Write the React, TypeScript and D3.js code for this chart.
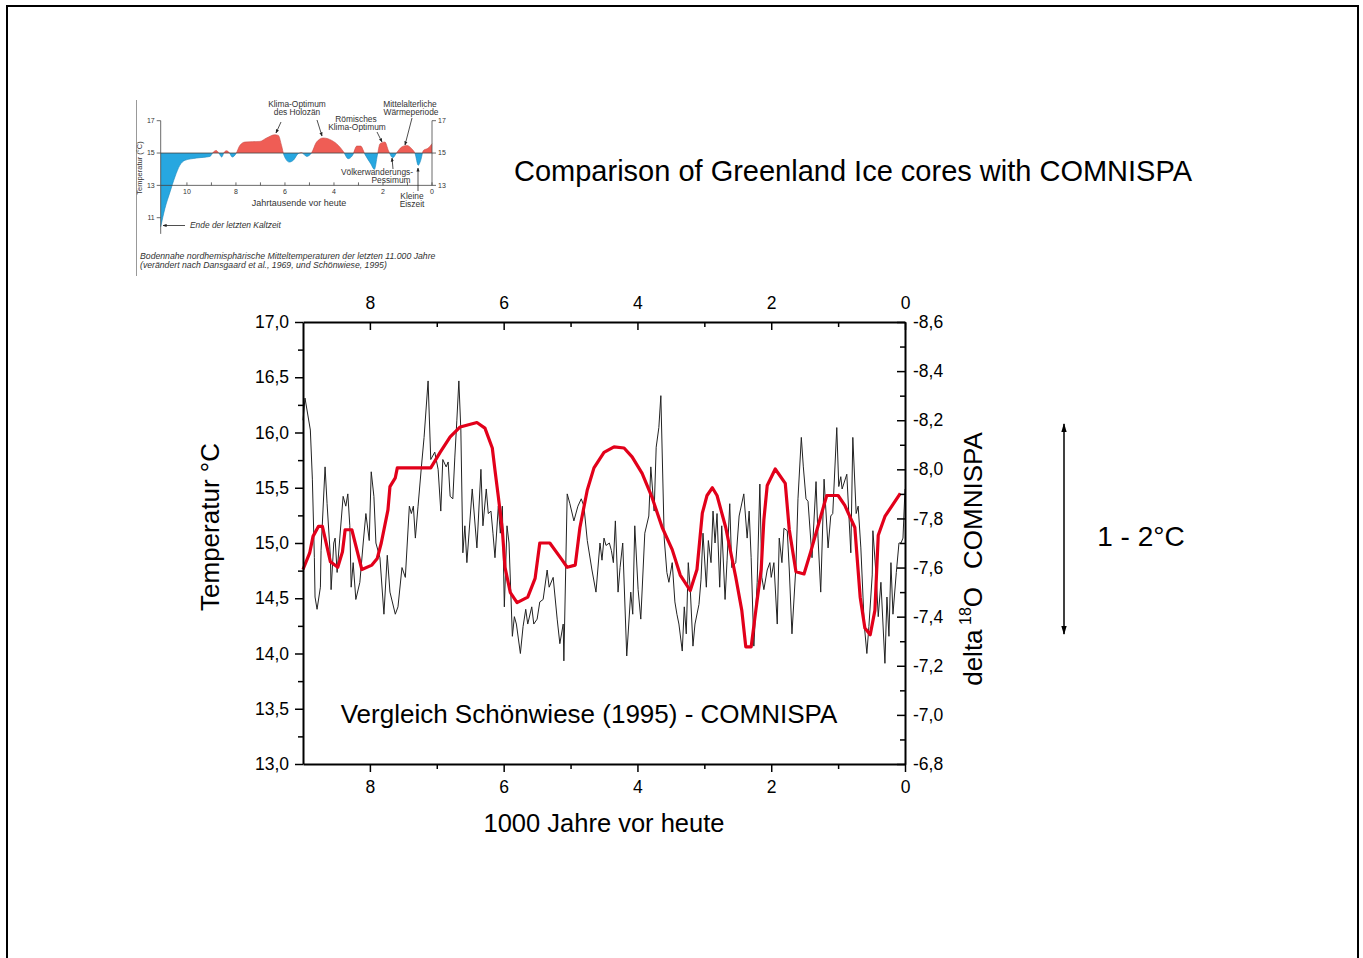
import React, { useEffect, useRef } from "react";
import * as d3 from "d3";

// Schönwiese (1995) temperature curve [kyr before present, °C]
const schoenwiese: [number, number][] = [
  [9.0, 14.76], [8.9, 14.91], [8.85, 15.06], [8.77, 15.15], [8.71, 15.15], [8.59, 14.83], [8.48, 14.78],
  [8.41, 14.92], [8.37, 15.12], [8.27, 15.12], [8.12, 14.76], [7.97, 14.8], [7.89, 14.86], [7.83, 15.0],
  [7.73, 15.3], [7.7, 15.51], [7.62, 15.59], [7.59, 15.68], [7.09, 15.68], [6.95, 15.82], [6.8, 15.96],
  [6.65, 16.05], [6.4, 16.09], [6.28, 16.04], [6.17, 15.86], [6.13, 15.66], [6.08, 15.42], [6.02, 15.12],
  [5.98, 14.78], [5.9, 14.55], [5.8, 14.46], [5.64, 14.51], [5.53, 14.68], [5.46, 15.0], [5.31, 15.0],
  [5.13, 14.85], [5.05, 14.78], [4.93, 14.8], [4.86, 15.14], [4.75, 15.48], [4.65, 15.68], [4.5, 15.82],
  [4.35, 15.87], [4.2, 15.86], [4.08, 15.78], [3.93, 15.63], [3.78, 15.41], [3.63, 15.14], [3.48, 14.94],
  [3.36, 14.71], [3.21, 14.57], [3.11, 14.76], [3.03, 15.27], [2.96, 15.43], [2.88, 15.5], [2.81, 15.43],
  [2.68, 15.14], [2.53, 14.69], [2.44, 14.39], [2.38, 14.06], [2.3, 14.06], [2.23, 14.39], [2.15, 14.76],
  [2.11, 15.21], [2.06, 15.52], [1.94, 15.67], [1.79, 15.54], [1.73, 15.12], [1.63, 14.74], [1.51, 14.72],
  [1.41, 14.92], [1.26, 15.24], [1.17, 15.43], [1.0, 15.43], [0.9, 15.34], [0.75, 15.14], [0.67, 14.51],
  [0.6, 14.23], [0.52, 14.17], [0.45, 14.39], [0.4, 15.07], [0.3, 15.24], [0.07, 15.45],
];

// COMNISPA delta 18O [kyr before present, permil]
const comnispa: [number, number][] = [
  [9.0, -8.2], [8.97, -8.29], [8.89, -8.16], [8.86, -7.96], [8.83, -7.64], [8.82, -7.48], [8.79, -7.43],
  [8.74, -7.52], [8.73, -7.67], [8.67, -8.01], [8.64, -7.86], [8.59, -7.64], [8.58, -7.51], [8.54, -7.7],
  [8.52, -7.72], [8.49, -7.58], [8.45, -7.72], [8.4, -7.89], [8.36, -7.85], [8.33, -7.9], [8.3, -7.77],
  [8.28, -7.52], [8.25, -7.62], [8.21, -7.47], [8.15, -7.54], [8.1, -7.7], [8.06, -7.82], [8.01, -7.71],
  [7.98, -7.99], [7.94, -7.89], [7.91, -7.7], [7.85, -7.64], [7.79, -7.41], [7.74, -7.65], [7.7, -7.5],
  [7.62, -7.41], [7.58, -7.44], [7.52, -7.6], [7.47, -7.56], [7.41, -7.85], [7.38, -7.82], [7.35, -7.85],
  [7.32, -7.72], [7.28, -7.85], [7.23, -8.01], [7.19, -8.13], [7.13, -8.36], [7.09, -8.04], [7.03, -8.07],
  [6.98, -8.0], [6.94, -7.83], [6.91, -8.04], [6.86, -8.01], [6.83, -8.03], [6.8, -7.89], [6.76, -7.88],
  [6.73, -8.05], [6.7, -8.2], [6.67, -8.36], [6.64, -8.16], [6.61, -7.66], [6.58, -7.77], [6.55, -7.62],
  [6.47, -7.92], [6.4, -7.68], [6.34, -8.0], [6.31, -7.77], [6.26, -7.92], [6.23, -7.82], [6.19, -7.83],
  [6.16, -7.74], [6.13, -7.64], [6.08, -7.85], [6.05, -7.74], [6.02, -7.85], [5.99, -7.44], [5.95, -7.77],
  [5.92, -7.7], [5.87, -7.32], [5.84, -7.4], [5.81, -7.37], [5.75, -7.25], [5.71, -7.36], [5.67, -7.43],
  [5.64, -7.37], [5.58, -7.44], [5.55, -7.37], [5.5, -7.39], [5.46, -7.46], [5.41, -7.47], [5.35, -7.59],
  [5.32, -7.52], [5.26, -7.56], [5.2, -7.39], [5.16, -7.29], [5.11, -7.37], [5.1, -7.22], [5.05, -7.9],
  [5.01, -7.86], [4.95, -7.79], [4.89, -7.85], [4.84, -7.88], [4.8, -7.85], [4.75, -7.71], [4.68, -7.59],
  [4.62, -7.5], [4.56, -7.7], [4.53, -7.63], [4.5, -7.72], [4.47, -7.69], [4.42, -7.7], [4.39, -7.67],
  [4.36, -7.62], [4.33, -7.79], [4.29, -7.5], [4.26, -7.6], [4.22, -7.7], [4.16, -7.24], [4.1, -7.5],
  [4.07, -7.41], [4.04, -7.77], [3.99, -7.51], [3.95, -7.39], [3.89, -7.74], [3.83, -7.81], [3.8, -8.01],
  [3.75, -7.83], [3.72, -8.09], [3.68, -8.17], [3.65, -8.3], [3.6, -7.72], [3.56, -7.58], [3.53, -7.54],
  [3.48, -7.62], [3.44, -7.46], [3.41, -7.41], [3.38, -7.37], [3.33, -7.26], [3.3, -7.44], [3.27, -7.33],
  [3.24, -7.62], [3.21, -7.51], [3.17, -7.28], [3.14, -7.37], [3.08, -7.45], [3.05, -7.55], [3.02, -7.74],
  [2.97, -7.52], [2.94, -7.71], [2.9, -7.62], [2.87, -7.83], [2.84, -7.7], [2.81, -7.82], [2.77, -7.52],
  [2.74, -7.77], [2.69, -7.47], [2.66, -7.63], [2.62, -7.86], [2.59, -7.6], [2.53, -7.62], [2.48, -7.81],
  [2.41, -7.9], [2.36, -7.72], [2.33, -7.83], [2.3, -7.64], [2.26, -7.28], [2.21, -7.54], [2.17, -7.94],
  [2.14, -7.56], [2.11, -7.51], [2.06, -7.59], [2.02, -7.62], [2.0, -7.56], [1.96, -7.62], [1.91, -7.37],
  [1.88, -7.72], [1.84, -7.62], [1.81, -7.76], [1.76, -7.75], [1.73, -7.59], [1.69, -7.33], [1.63, -7.61],
  [1.6, -7.88], [1.55, -8.13], [1.52, -8.01], [1.48, -7.88], [1.45, -7.87], [1.39, -7.64], [1.33, -7.95],
  [1.3, -7.72], [1.26, -7.5], [1.21, -7.96], [1.15, -7.68], [1.11, -7.81], [1.08, -7.82], [1.02, -8.17],
  [0.99, -7.93], [0.96, -7.97], [0.94, -7.92], [0.87, -7.98], [0.81, -7.66], [0.78, -8.13], [0.73, -7.82],
  [0.7, -7.85], [0.66, -7.68], [0.61, -7.37], [0.57, -7.25], [0.54, -7.36], [0.49, -7.57], [0.48, -7.75],
  [0.43, -7.56], [0.4, -7.4], [0.36, -7.54], [0.3, -7.21], [0.27, -7.48], [0.24, -7.32], [0.21, -7.62],
  [0.18, -7.41], [0.13, -7.58], [0.09, -7.7], [0.06, -7.7], [0.03, -7.72], [0.0, -7.92],
];

// Inset: northern hemisphere mean temperature, last 11,000 years [kyr, °C]
const insetCurve: [number, number][] = [
  [11.07, 10.43], [10.9, 11.56], [10.69, 12.59], [10.49, 13.52], [10.29, 14.24], [10.08, 14.55],
  [9.6, 14.69], [9.06, 14.79], [8.92, 15.06], [8.81, 15.16], [8.68, 14.96], [8.58, 14.75], [8.49, 15.02],
  [8.38, 15.14], [8.27, 15.02], [8.15, 14.75], [8.0, 14.96], [7.84, 15.47], [7.63, 15.68], [7.02, 15.72],
  [6.75, 15.93], [6.41, 16.13], [6.27, 16.09], [6.14, 15.47], [6.04, 14.86], [5.82, 14.44], [5.66, 14.55],
  [5.46, 14.96], [5.32, 15.02], [5.11, 14.79], [4.91, 15.02], [4.71, 15.68], [4.44, 15.93], [4.09, 15.78],
  [3.82, 15.47], [3.62, 15.1], [3.42, 14.65], [3.24, 14.86], [3.07, 15.43], [2.91, 15.43], [2.73, 14.9],
  [2.5, 14.34], [2.35, 13.99], [2.23, 14.86], [2.12, 15.58], [1.92, 15.68], [1.78, 15.16], [1.6, 14.71],
  [1.44, 15.02], [1.24, 15.37], [1.03, 15.47], [0.83, 15.27], [0.69, 14.96], [0.56, 14.24], [0.46, 14.55],
  [0.35, 15.16], [0.15, 15.31], [0.0, 15.58],
];

const kyrMajor = [8, 6, 4, 2, 0];
const kyrMinor = [7, 5, 3, 1];
const tempMajor = [13, 13.5, 14, 14.5, 15, 15.5, 16, 16.5, 17];
const tempMinor = [13.25, 13.75, 14.25, 14.75, 15.25, 15.75, 16.25, 16.75];
const deltaMajor = [-8.6, -8.4, -8.2, -8.0, -7.8, -7.6, -7.4, -7.2, -7.0, -6.8];
const deltaMinor = [-8.5, -8.3, -8.1, -7.9, -7.7, -7.5, -7.3, -7.1, -6.9];
const insetXTicks = [10, 8, 6, 4, 2, 0];
const insetXMinor = [9, 7, 5, 3, 1];
const insetYLeft = [17, 15, 13, 11];
const insetYRight = [17, 15, 13];

const FONT = "'Liberation Sans', Arial, sans-serif";

export default function App() {
  const axesRef = useRef<SVGGElement>(null);

  const x = d3.scaleLinear().domain([9, 0]).range([303, 905]);
  const yL = d3.scaleLinear().domain([13, 17]).range([764, 322]);
  const yR = d3.scaleLinear().domain([-6.8, -8.6]).range([764, 322]);

  const xi = d3.scaleLinear().domain([11.07, 0]).range([160.7, 432]);
  const yi = d3.scaleLinear().domain([11, 17]).range([217.7, 120.7]);

  const comma = (v: number) => d3.format(".1f")(v).replace(".", ",").replace("\u2212", "-");

  const redLine = d3.line<[number, number]>().x((d) => x(d[0])).y((d) => yL(d[1]))(schoenwiese) || "";
  const blackLine = d3.line<[number, number]>().x((d) => x(d[0])).y((d) => yR(d[1]))(comnispa) || "";

  const insetArea = d3
    .area<[number, number]>()
    .x((d) => xi(d[0]))
    .y0(yi(15))
    .y1((d) => yi(d[1]))
    .curve(d3.curveMonotoneX)(insetCurve) || "";
  const insetLine = d3
    .line<[number, number]>()
    .x((d) => xi(d[0]))
    .y((d) => yi(d[1]))
    .curve(d3.curveMonotoneX)(insetCurve) || "";

  useEffect(() => {
    const root = d3.select(axesRef.current as SVGGElement);
    root.selectAll("*").remove();

    const style = (sel: any, hideDomain = false) => {
      sel.attr("font-size", null).attr("font-family", null);
      sel.select(".domain").attr("stroke-width", 2).attr("stroke", "#000");
      if (hideDomain) sel.select(".domain").remove();
      sel.selectAll(".tick line").attr("stroke-width", 1.5).attr("stroke", "#000");
      sel
        .selectAll(".tick text")
        .attr("font-size", 17.5)
        .attr("font-family", FONT)
        .attr("fill", "#000");
    };

    // left
    root.append("g").attr("transform", "translate(303,0)")
      .call(d3.axisLeft(yL).tickValues(tempMinor).tickSize(5).tickFormat(() => ""))
      .call((s) => style(s, true));
    root.append("g").attr("transform", "translate(303,0)")
      .call(d3.axisLeft(yL).tickValues(tempMajor).tickSizeInner(8).tickSizeOuter(0).tickPadding(6).tickFormat((d) => comma(+d)))
      .call((s) => style(s));
    // right
    root.append("g").attr("transform", "translate(905,0)")
      .call(d3.axisRight(yR).tickValues(deltaMinor).tickSizeInner(-5).tickSizeOuter(0).tickFormat(() => ""))
      .call((s) => style(s, true));
    root.append("g").attr("transform", "translate(905,0)")
      .call(d3.axisRight(yR).tickValues(deltaMajor).tickSizeInner(-8).tickSizeOuter(0).tickPadding(8).tickFormat((d) => comma(+d)))
      .call((s) => style(s));
    // top
    root.append("g").attr("transform", "translate(0,322)")
      .call(d3.axisTop(x).tickValues(kyrMinor).tickSizeInner(-5).tickSizeOuter(0).tickFormat(() => ""))
      .call((s) => style(s, true));
    root.append("g").attr("transform", "translate(0,322)")
      .call(d3.axisTop(x).tickValues(kyrMajor).tickSizeInner(-8).tickSizeOuter(0).tickPadding(13).tickFormat((d) => String(d)))
      .call((s) => style(s));
    // bottom
    root.append("g").attr("transform", "translate(0,764)")
      .call(d3.axisBottom(x).tickValues(kyrMinor).tickSize(5).tickFormat(() => ""))
      .call((s) => style(s, true));
    root.append("g").attr("transform", "translate(0,764)")
      .call(d3.axisBottom(x).tickValues(kyrMajor).tickSizeInner(8).tickSizeOuter(0).tickPadding(9).tickFormat((d) => String(d)))
      .call((s) => style(s));
  }, []);

  const y15 = yi(15);
  const insetText = { fontFamily: FONT, fontSize: 8.4, fill: "#333" } as const;

  return (
    <svg
      width={1363}
      height={958}
      style={{ position: "absolute", left: 0, top: 0, display: "block", background: "#fff" }}
    >
      <defs>
        <clipPath id="aboveClip">
          <rect x={150} y={90} width={300} height={y15 - 90} />
        </clipPath>
        <clipPath id="belowClip">
          <rect x={150} y={y15} width={300} height={120} />
        </clipPath>
        <marker id="arrSmall" viewBox="0 0 10 10" refX="9" refY="5" markerWidth="5" markerHeight="5" orient="auto">
          <path d="M0,1 L10,5 L0,9 z" fill="#222" />
        </marker>
        <marker id="arrBig" viewBox="0 0 10 10" refX="9" refY="5" markerWidth="6" markerHeight="8" orient="auto-start-reverse">
          <path d="M0,2 L10,5 L0,8 z" fill="#000" />
        </marker>
      </defs>

      {/* frame */}
      <rect x={7} y={6} width={1351} height={980} fill="none" stroke="#000" strokeWidth={2} />

      {/* ===== inset ===== */}
      <line x1={136.5} y1={100} x2={136.5} y2={276} stroke="#999" strokeWidth={1} />
      <path d={insetArea} fill="#ef5d55" clipPath="url(#aboveClip)" />
      <path d={insetArea} fill="#27a7e0" clipPath="url(#belowClip)" />
      <path d={insetLine} fill="none" stroke="#c94a44" strokeWidth={0.6} clipPath="url(#aboveClip)" />
      <path d={insetLine} fill="none" stroke="#1a86bb" strokeWidth={0.6} clipPath="url(#belowClip)" />
      <line x1={xi(11.07)} x2={xi(0)} y1={y15} y2={y15} stroke="#444" strokeWidth={0.8} />
      {/* inset axes */}
      <line x1={xi(11.07)} x2={xi(11.07)} y1={yi(17)} y2={yi(10)} stroke="#444" strokeWidth={0.8} />
      <line x1={xi(0)} x2={xi(0)} y1={yi(17)} y2={yi(13)} stroke="#444" strokeWidth={0.8} />
      <line x1={xi(11.07)} x2={xi(0)} y1={yi(13)} y2={yi(13)} stroke="#444" strokeWidth={0.8} />
      {insetYLeft.map((t) => (
        <g key={"il" + t}>
          <line x1={xi(11.07) - 4} x2={xi(11.07)} y1={yi(t)} y2={yi(t)} stroke="#444" strokeWidth={0.8} />
          <text x={xi(11.07) - 6} y={yi(t)} dy="0.32em" textAnchor="end" {...insetText} fontSize={7}>{t}</text>
        </g>
      ))}
      {insetYRight.map((t) => (
        <g key={"ir" + t}>
          <line x1={xi(0)} x2={xi(0) + 4} y1={yi(t)} y2={yi(t)} stroke="#444" strokeWidth={0.8} />
          <text x={xi(0) + 6} y={yi(t)} dy="0.32em" {...insetText} fontSize={7}>{t}</text>
        </g>
      ))}
      {insetXMinor.concat(insetXTicks).map((t) => (
        <line key={"ix" + t} x1={xi(t)} x2={xi(t)} y1={yi(13)} y2={yi(13) - 3} stroke="#444" strokeWidth={0.8} />
      ))}
      {insetXTicks.map((t) => (
        <text key={"ixt" + t} x={xi(t)} y={yi(13) + 9} textAnchor="middle" {...insetText} fontSize={7}>{t}</text>
      ))}
      <text x={299} y={206} textAnchor="middle" {...insetText} fontSize={9}>Jahrtausende vor heute</text>
      <text transform="translate(142,168) rotate(-90)" textAnchor="middle" {...insetText} fontSize={7.5}>Temperatur (°C)</text>

      {/* inset annotations */}
      <text x={297} y={107} textAnchor="middle" {...insetText}>Klima-Optimum</text>
      <text x={297} y={115} textAnchor="middle" {...insetText}>des Holozän</text>
      <line x1={281} y1={122} x2={276} y2={133} stroke="#222" strokeWidth={0.8} markerEnd="url(#arrSmall)" />
      <line x1={317} y1={120} x2={322} y2={136} stroke="#222" strokeWidth={0.8} markerEnd="url(#arrSmall)" />
      <text x={356} y={122} textAnchor="middle" {...insetText}>Römisches</text>
      <text x={357} y={130} textAnchor="middle" {...insetText}>Klima-Optimum</text>
      <line x1={377} y1={132} x2={382} y2={142} stroke="#222" strokeWidth={0.8} markerEnd="url(#arrSmall)" />
      <text x={410} y={107} textAnchor="middle" {...insetText}>Mittelalterliche</text>
      <text x={411} y={115} textAnchor="middle" {...insetText}>Wärmeperiode</text>
      <line x1={412} y1={118} x2={405} y2={145} stroke="#222" strokeWidth={0.8} markerEnd="url(#arrSmall)" />
      <text x={377} y={175} textAnchor="middle" {...insetText}>Völkerwanderungs-</text>
      <text x={391} y={183} textAnchor="middle" {...insetText}>Pessimum</text>
      <line x1={393} y1={169} x2={392} y2={158} stroke="#222" strokeWidth={0.8} markerEnd="url(#arrSmall)" />
      <text x={412} y={199} textAnchor="middle" {...insetText}>Kleine</text>
      <text x={412} y={207} textAnchor="middle" {...insetText}>Eiszeit</text>
      <line x1={418} y1={191} x2={418} y2={168} stroke="#222" strokeWidth={0.8} markerEnd="url(#arrSmall)" />
      <text x={190} y={228} {...insetText} fontStyle="italic">Ende der letzten Kaltzeit</text>
      <line x1={185} y1={225.5} x2={163} y2={225.5} stroke="#222" strokeWidth={0.8} markerEnd="url(#arrSmall)" />
      <text x={140} y={259} {...insetText} fontSize={8.7} fontStyle="italic">
        Bodennahe nordhemisphärische Mitteltemperaturen der letzten 11.000 Jahre
      </text>
      <text x={140} y={268} {...insetText} fontSize={8.7} fontStyle="italic">
        (verändert nach Dansgaard et al., 1969, und Schönwiese, 1995)
      </text>

      {/* title */}
      <text x={853} y={181} textAnchor="middle" fontFamily={FONT} fontSize={29} fill="#000">
        Comparison of Greenland Ice cores with COMNISPA
      </text>

      {/* ===== main chart ===== */}
      <path d={blackLine} fill="none" stroke="#222" strokeWidth={1} strokeLinejoin="round" />
      <path d={redLine} fill="none" stroke="#e2001a" strokeWidth={3.2} strokeLinejoin="round" />
      <g ref={axesRef} />

      <text x={589} y={723} textAnchor="middle" fontFamily={FONT} fontSize={26} fill="#000">
        Vergleich Schönwiese (1995) - COMNISPA
      </text>
      <text x={604} y={832} textAnchor="middle" fontFamily={FONT} fontSize={25.5} fill="#000">
        1000 Jahre vor heute
      </text>
      <text transform="translate(219,527) rotate(-90)" textAnchor="middle" fontFamily={FONT} fontSize={26} fill="#000">
        Temperatur °C
      </text>
      <text transform="translate(982,559) rotate(-90)" textAnchor="middle" fontFamily={FONT} fontSize={26} fill="#000">
        delta
        <tspan dy={-11} fontSize={16}> 18</tspan>
        <tspan dy={11}>O</tspan>
        <tspan dx={18}>COMNISPA</tspan>
      </text>

      {/* 1 - 2°C range arrow */}
      <line x1={1064} y1={424} x2={1064} y2={634} stroke="#000" strokeWidth={1.5} markerStart="url(#arrBig)" markerEnd="url(#arrBig)" />
      <text x={1141} y={546} textAnchor="middle" fontFamily={FONT} fontSize={28} fill="#000">
        1 - 2°C
      </text>
    </svg>
  );
}
